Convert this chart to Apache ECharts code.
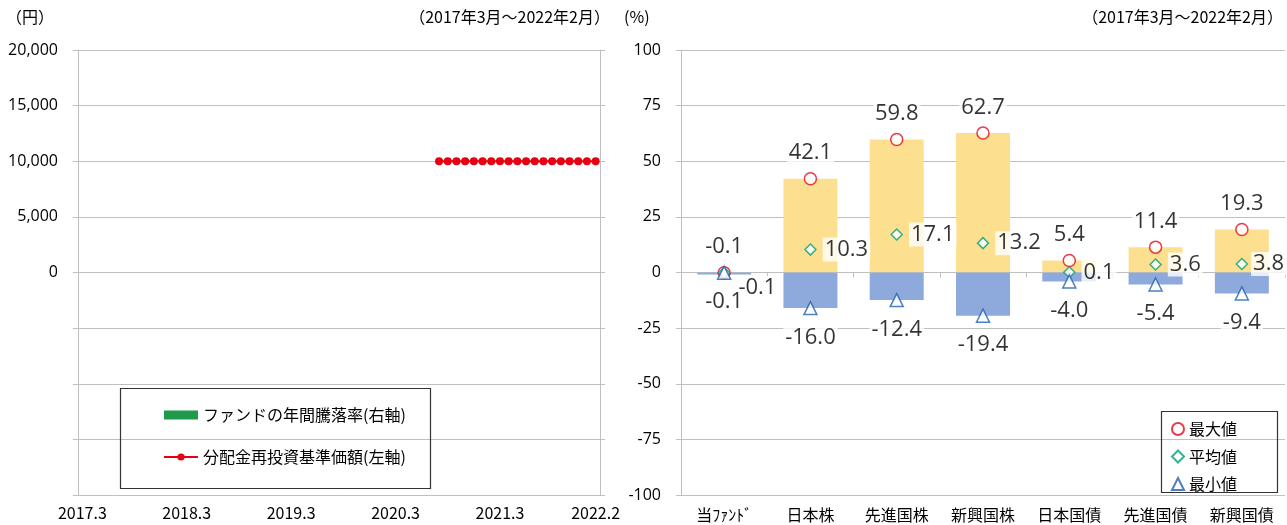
<!DOCTYPE html>
<html>
<head>
<meta charset="utf-8">
<script src="https://cdn.jsdelivr.net/npm/echarts@6/dist/echarts.min.js"></script>
<style>
html,body{margin:0;padding:0;background:#fff;}
#c{width:1287px;height:525px;}
</style>
</head>
<body>
<div id="c"></div>
<script>
// ---- Left chart data ----
var months = [
 '2017.3','2017.4','2017.5','2017.6','2017.7','2017.8','2017.9','2017.10','2017.11','2017.12','2018.1','2018.2',
 '2018.3','2018.4','2018.5','2018.6','2018.7','2018.8','2018.9','2018.10','2018.11','2018.12','2019.1','2019.2',
 '2019.3','2019.4','2019.5','2019.6','2019.7','2019.8','2019.9','2019.10','2019.11','2019.12','2020.1','2020.2',
 '2020.3','2020.4','2020.5','2020.6','2020.7','2020.8','2020.9','2020.10','2020.11','2020.12','2021.1','2021.2',
 '2021.3','2021.4','2021.5','2021.6','2021.7','2021.8','2021.9','2021.10','2021.11','2021.12','2022.1','2022.2'
];
var monthTickLabels = ['2017.3','2018.3','2019.3','2020.3','2021.3','2022.2'];
var navValues = [
 null,null,null,null,null,null,null,null,null,null,null,null,
 null,null,null,null,null,null,null,null,null,null,null,null,
 null,null,null,null,null,null,null,null,null,null,null,null,
 null,null,null,null,null,10000,10000,10000,10000,10000,10000,10000,
 10000,10000,10000,10000,10000,10000,10000,10000,10000,10000,10000,10000
];
var fundAnnualRate = [];

// ---- Right chart data ----
var assetCats = ['当ﾌｧﾝﾄﾞ','日本株','先進国株','新興国株','日本国債','先進国債','新興国債'];
var maxVals = [-0.1, 42.1, 59.8, 62.7, 5.4, 11.4, 19.3];
var avgVals = [-0.1, 10.3, 17.1, 13.2, 0.1, 3.6, 3.8];
var minVals = [-0.1, -16.0, -12.4, -19.4, -4.0, -5.4, -9.4];

var GRAY = '#bfbfbf';
var NUMFONT = '"Open Sans", Lato, sans-serif';
var JPFONT = '"Noto Sans CJK JP", sans-serif';

function fmt1(p){ return p.value.toFixed(1); }
var numLabel = {show:true, formatter:fmt1, fontSize:22, fontFamily:NUMFONT, color:'#000', backgroundColor:'#fff', padding:[0,2], lineHeight:24};

var avgData = avgVals.map(function(v,i){
  if(i===0) return {value:v, label:{offset:[0,15]}};
  if(i===avgVals.length-1) return {value:v, label:{offset:[-3,0]}};
  return v;
});

var chart = echarts.init(document.getElementById('c'), null, {renderer:'canvas'});
chart.setOption({
  animation:false,
  backgroundColor:'#fff',
  grid:[
    {left:78, right:687, top:50, bottom:30, outerBoundsMode:'none', containLabel:false},
    {left:681, right:2, top:50, bottom:30, outerBoundsMode:'none', containLabel:false}
  ],
  xAxis:[
    {type:'category', gridIndex:0, data:months, boundaryGap:true,
     axisLine:{onZero:false, lineStyle:{color:GRAY}}, axisTick:{show:false},
     axisLabel:{interval:function(i,v){return monthTickLabels.indexOf(v)>=0;}, fontSize:16, fontFamily:JPFONT, color:'#000', margin:10},
     splitLine:{show:false}},
    {type:'category', gridIndex:1, data:assetCats, boundaryGap:true, position:'bottom',
     axisLine:{show:false, onZero:false}, axisTick:{show:false},
     axisLabel:{fontSize:16, fontFamily:JPFONT, color:'#000', margin:12},
     splitLine:{show:false}},
    {type:'category', gridIndex:1, data:assetCats, boundaryGap:true, position:'top',
     axisLine:{show:true, onZero:true, lineStyle:{color:GRAY}},
     axisTick:{show:true, inside:true, length:5, lineStyle:{color:GRAY}},
     axisLabel:{show:false}, splitLine:{show:false}}
  ],
  yAxis:[
    {type:'value', gridIndex:0, min:-20000, max:20000, interval:5000,
     axisLine:{show:true, lineStyle:{color:GRAY}}, axisTick:{show:true, length:5, lineStyle:{color:GRAY}},
     splitLine:{show:true, lineStyle:{color:GRAY}},
     axisLabel:{fontSize:16, fontFamily:NUMFONT, color:'#000', margin:20,
       formatter:function(v){ return v>=0 ? v.toLocaleString('en-US') : ''; }}},
    {type:'value', gridIndex:0, position:'right', min:-100, max:100, interval:25,
     axisLine:{show:true, lineStyle:{color:GRAY}}, axisTick:{show:true, length:5, lineStyle:{color:GRAY}},
     splitLine:{show:false}, axisLabel:{show:false}},
    {type:'value', gridIndex:1, min:-100, max:100, interval:25,
     axisLine:{show:true, lineStyle:{color:GRAY}}, axisTick:{show:true, length:5, lineStyle:{color:GRAY}},
     splitLine:{show:true, lineStyle:{color:GRAY}},
     axisLabel:{fontSize:16, fontFamily:NUMFONT, color:'#000', margin:20}}
  ],
  legend:[
    {orient:'vertical', left:158, top:402, itemGap:26, itemWidth:34, itemHeight:9, selectedMode:false,
     textStyle:{fontSize:16, fontFamily:JPFONT, color:'#000'},
     data:[{name:'ファンドの年間騰落率(右軸)', icon:'rect'}, {name:'分配金再投資基準価額(左軸)'}]},
    {orient:'vertical', left:1166, top:416, itemGap:11.5, itemWidth:12, itemHeight:12, selectedMode:false,
     textStyle:{fontSize:16, fontFamily:JPFONT, color:'#000'},
     data:['最大値','平均値','最小値']}
  ],
  graphic:[
    {type:'rect', shape:{x:120.5, y:388.5, width:310, height:100}, style:{fill:'none', stroke:'#333', lineWidth:1.2}, z:100},
    {type:'rect', shape:{x:1161.5, y:411.5, width:116, height:81}, style:{fill:'none', stroke:'#333', lineWidth:1.2}, z:100},
    {type:'rect', shape:{x:1162, y:412, width:115, height:80}, style:{fill:'#fff'}, z:-1, silent:true},
    {type:'text', left:6, top:9, style:{text:'（円）', font:'16px "Noto Sans CJK JP"', fill:'#000'}},
    {type:'text', right:1287-610, top:9, style:{text:'（2017年3月～2022年2月）', font:'16px "Noto Sans CJK JP"', fill:'#000'}},
    {type:'text', left:624, top:9, style:{text:'(%)', font:'16px "Noto Sans CJK JP"', fill:'#000'}},
    {type:'text', right:4, top:9, style:{text:'（2017年3月～2022年2月）', font:'16px "Noto Sans CJK JP"', fill:'#000'}}
  ],
  series:[
    {name:'ファンドの年間騰落率(右軸)', type:'bar', xAxisIndex:0, yAxisIndex:1, data:fundAnnualRate,
     itemStyle:{color:'#1f9a4a'}},
    {name:'分配金再投資基準価額(左軸)', type:'line', xAxisIndex:0, yAxisIndex:0, data:navValues,
     symbol:'circle', symbolSize:8, showAllSymbol:true, connectNulls:false,
     lineStyle:{color:'#e60012', width:2}, itemStyle:{color:'#e60012'}},
    {name:'maxBar', type:'bar', xAxisIndex:1, yAxisIndex:2, data:maxVals, barWidth:54, barGap:'-100%',
     itemStyle:{color:'#fcdf8f'}, silent:true, z:1},
    {name:'minBar', type:'bar', xAxisIndex:1, yAxisIndex:2, data:minVals, barWidth:54, barGap:'-100%', barMinHeight:2,
     itemStyle:{color:'#8eaadc'}, silent:true, z:1},
    {name:'最大値', type:'scatter', xAxisIndex:1, yAxisIndex:2, data:maxVals, symbol:'circle', symbolSize:12, z:5,
     itemStyle:{color:'#fff', borderColor:'#e8071f', borderWidth:1.5},
     label:Object.assign({}, numLabel, {position:'top', distance:7})},
    {name:'平均値', type:'scatter', xAxisIndex:1, yAxisIndex:2, data:avgData, symbol:'diamond', symbolSize:11, z:5,
     itemStyle:{color:'#fff', borderColor:'#00a07a', borderWidth:1.5},
     label:Object.assign({}, numLabel, {position:'right', distance:6})},
    {name:'最小値', type:'scatter', xAxisIndex:1, yAxisIndex:2, data:minVals, symbol:'triangle', symbolSize:13, z:5,
     itemStyle:{color:'#fff', borderColor:'#1f5fb4', borderWidth:1.5},
     label:Object.assign({}, numLabel, {position:'bottom', distance:10})}
  ]
});
</script>
</body>
</html>
